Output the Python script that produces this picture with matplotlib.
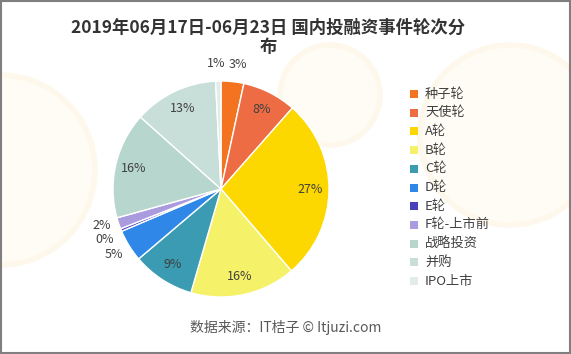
import numpy as np
import matplotlib
matplotlib.use("Agg")
import matplotlib.pyplot as plt
from matplotlib.patches import Rectangle, Circle

plt.rcParams['font.family'] = ['Noto Sans CJK SC', 'DejaVu Sans']

# data (share of events, %)
rounds = ['种子轮', '天使轮', 'A轮', 'B轮', 'C轮', 'D轮', 'E轮', 'F轮-上市前', '战略投资', '并购', 'IPO上市']
shares = [3.4, 8.1, 27.2, 15.8, 9.3, 4.8, 0.4, 1.7, 15.9, 12.6, 0.8]
colors = ['#F47320', '#EE6C44', '#FCD800', '#F5F26A', '#3A9BB2', '#2F88E8',
          '#4A40BE', '#A99BDD', '#B7D6CE', '#C8DED9', '#E2ECEA']

fig = plt.figure(figsize=(5.71, 3.54), dpi=100)
fig.patch.set_facecolor('white')

# very faint lemon watermark in the background
bg = fig.add_axes([0, 0, 1, 1])
bg.set_xlim(0, 571)
bg.set_ylim(354, 0)
bg.axis('off')
for cx, cy, r in [(0, 170, 95), (510, 135, 90), (330, 95, 50)]:
    bg.add_patch(Circle((cx, cy), r, facecolor='#FFFCF5', edgecolor='#FEF8EC', lw=4))
bg.add_patch(Rectangle((1, 1), 569, 352, fill=False, edgecolor='#7F7F7F', lw=1.5))

ax = fig.add_axes([113 / 571, 57 / 354, 216 / 571, 216 / 354])
wedges, _ = ax.pie(shares, colors=colors, startangle=90, counterclock=False,
                   wedgeprops=dict(edgecolor='white', linewidth=1))
ax.set_xlim(-1, 1)
ax.set_ylim(-1, 1)
ax.set_aspect('equal')

total = sum(shares)
nudge = {'种子轮': (0.03, 0), 'IPO上市': (-0.02, 0), 'F轮-上市前': (0, 0.03), 'E轮': (0, -0.03)}
for name, w, s in zip(rounds, wedges, shares):
    ang = np.deg2rad((w.theta1 + w.theta2) / 2)
    dist = 0.83 if s >= 8 else 1.16
    dx, dy = nudge.get(name, (0, 0))
    ax.text(dist * np.cos(ang) + dx, dist * np.sin(ang) + dy, '%.0f%%' % (100 * s / total),
            ha='center', va='center', fontsize=9, color='#404040')

fig.text(0.47, 0.895, '2019年06月17日-06月23日 国内投融资事件轮次分\n布',
         ha='center', va='center', fontsize=12.5, fontweight='bold', color='#333333',
         linespacing=1.1)

# legend
for i, (name, c) in enumerate(zip(rounds, colors)):
    y = 94 + i * 18.7
    bg.add_patch(Rectangle((410, y - 4), 8, 8, facecolor=c, edgecolor='none'))
    bg.text(425, y, name, ha='left', va='center', fontsize=9.5, color='#404040')

fig.text(0.5, 0.076, '数据来源：IT桔子 © Itjuzi.com', ha='center', va='center',
         fontsize=10, color='#595959')

fig.savefig('out.png', dpi=100)
